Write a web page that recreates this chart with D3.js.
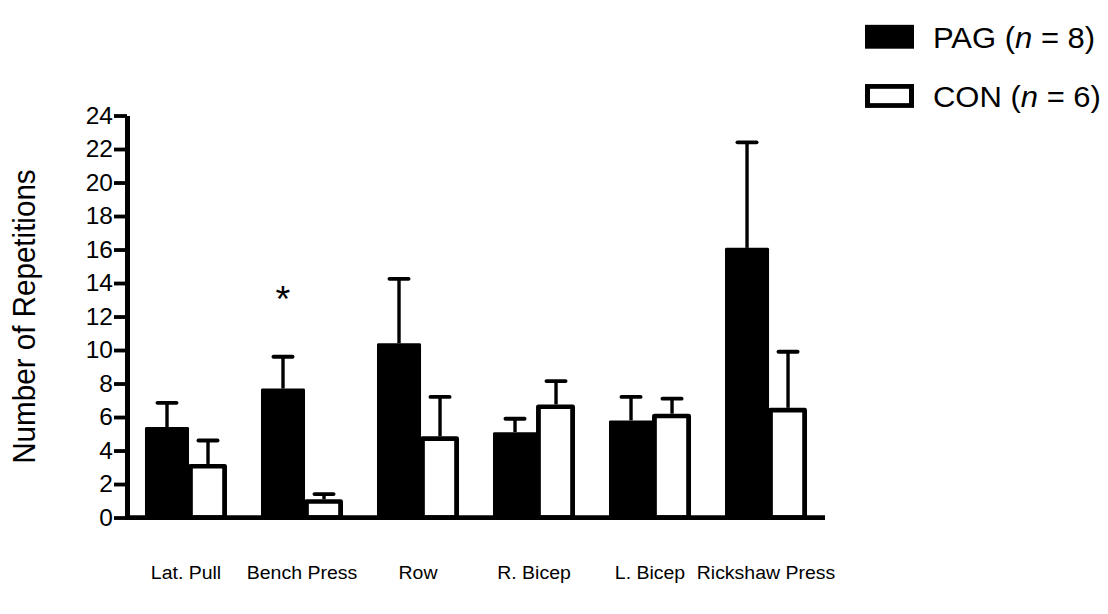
<!DOCTYPE html>
<html>
<head>
<meta charset="utf-8">
<script src="https://cdn.jsdelivr.net/npm/d3@7"></script>
<style>
  html, body { margin: 0; padding: 0; background: #fff; }
  svg { display: block; font-family: Arial, "Liberation Sans", sans-serif; }
</style>
</head>
<body>
<div id="chart"></div>
<script>
// exercises on the x axis
const categories = ['Lat. Pull', 'Bench Press', 'Row', 'R. Bicep', 'L. Bicep', 'Rickshaw Press'];

// mean repetitions and upper error (SEM) per group
const pagMean = [5.4, 7.7, 10.4, 5.1, 5.8, 16.1];
const pagErr = [1.45, 1.9, 3.85, 0.8, 1.4, 6.3];
const conMean = [3.2, 1.1, 4.85, 6.75, 6.2, 6.55];
const conErr = [1.4, 0.3, 2.35, 1.4, 0.9, 3.35];

const yTicks = [0, 2, 4, 6, 8, 10, 12, 14, 16, 18, 20, 22, 24];
const groups = ['PAG', 'CON'];
const legendLabels = [['PAG (', 'n', ' = 8)'], ['CON (', 'n', ' = 6)']];
const sigIndex = 1; // Bench Press, PAG bar marked *
const sigLevel = 13.5;

// the figure is laid out on a 1108x643 sheet and squeezed to 614 high
const W = 1108, H = 643, OUT_H = 614;
const margin = { left: 127, right: 283, top: 121, bottom: 101 };

const svg = d3.select('#chart').append('svg')
  .attr('width', W).attr('height', OUT_H);
const root = svg.append('g').attr('transform', `scale(1,${OUT_H / H})`);

const y = d3.scaleLinear().domain([0, 24]).range([H - margin.bottom, margin.top]);
const x = d3.scaleBand().domain(categories)
  .range([margin.left, W - margin.right])
  .paddingInner(0.293).paddingOuter(0.155);

const bw = x.bandwidth();
const pagW = bw * 0.537;

const g = root.append('g');

// PAG bars (filled)
g.selectAll('.pag').data(categories).join('rect')
  .attr('class', 'pag')
  .attr('x', d => x(d))
  .attr('y', (d, i) => y(pagMean[i]))
  .attr('width', pagW)
  .attr('height', (d, i) => y(0) - y(pagMean[i]))
  .attr('rx', 1.5)
  .attr('fill', '#000');

// CON bars (outlined)
const sw = 4.8;
g.selectAll('.con').data(categories).join('rect')
  .attr('class', 'con')
  .attr('x', d => x(d) + pagW + sw / 2 - 1)
  .attr('y', (d, i) => y(conMean[i]) + sw / 2)
  .attr('width', bw - pagW - sw + 1)
  .attr('height', (d, i) => y(0) - y(conMean[i]) - sw / 2)
  .attr('fill', '#fff')
  .attr('stroke', '#000')
  .attr('stroke-width', sw)
  .attr('stroke-linejoin', 'round');

// error bars (upper only)
function errBars(cls, means, errs, cxFn) {
  const eg = g.selectAll('.' + cls).data(categories).join('g').attr('class', cls);
  eg.append('line')
    .attr('x1', d => cxFn(d)).attr('x2', d => cxFn(d))
    .attr('y1', (d, i) => y(means[i]))
    .attr('y2', (d, i) => y(means[i] + errs[i]))
    .attr('stroke', '#000').attr('stroke-width', 3.4);
  eg.append('line')
    .attr('x1', d => cxFn(d) - 9.5).attr('x2', d => cxFn(d) + 9.5)
    .attr('y1', (d, i) => y(means[i] + errs[i]))
    .attr('y2', (d, i) => y(means[i] + errs[i]))
    .attr('stroke', '#000').attr('stroke-width', 4)
    .attr('stroke-linecap', 'round');
}
errBars('pagErr', pagMean, pagErr, d => x(d) + pagW / 2);
errBars('conErr', conMean, conErr, d => x(d) + pagW + (bw - pagW) / 2);

// significance marker
root.append('text')
  .attr('x', x(categories[sigIndex]) + pagW / 2)
  .attr('y', y(sigLevel) + 22)
  .attr('text-anchor', 'middle')
  .attr('font-size', 38)
  .text('*');

// y axis
const yAxis = root.append('g')
  .attr('transform', `translate(${margin.left},0)`)
  .call(d3.axisLeft(y).tickValues(yTicks).tickSize(13).tickSizeOuter(0).tickPadding(1));
yAxis.select('.domain').attr('stroke-width', 5);
yAxis.selectAll('.tick line').attr('stroke-width', 4);
yAxis.selectAll('.tick text')
  .attr('font-size', 24.5).attr('fill', '#000')
  .attr('font-family', 'Arial, "Liberation Sans", sans-serif');

// x axis
const xAxis = root.append('g')
  .attr('transform', `translate(0,${y(0)})`)
  .call(d3.axisBottom(x).tickSize(0).tickSizeOuter(0).tickPadding(51));
xAxis.select('.domain').attr('stroke-width', 5)
  .attr('d', `M${margin.left - 2},0H${W - margin.right}`);
xAxis.selectAll('.tick text')
  .attr('font-size', 19.5).attr('fill', '#000')
  .attr('font-family', 'Arial, "Liberation Sans", sans-serif');

// y axis title
root.append('text')
  .attr('transform', `translate(35,${(y(0) + y(24)) / 2}) rotate(-90)`)
  .attr('text-anchor', 'middle')
  .attr('font-size', 31)
  .text('Number of Repetitions');

// legend
const legend = root.append('g').attr('transform', 'translate(865,26)');
groups.forEach((grp, i) => {
  const row = legend.append('g').attr('transform', `translate(0,${i * 62})`);
  if (grp === 'PAG') {
    row.append('rect').attr('x', 0).attr('y', 0).attr('width', 49).attr('height', 25).attr('fill', '#000');
  } else {
    row.append('rect').attr('x', 2.5).attr('y', 2.5).attr('width', 44).attr('height', 20)
      .attr('fill', '#fff').attr('stroke', '#000').attr('stroke-width', 5);
  }
  const t = row.append('text').attr('x', 68).attr('y', 24).attr('font-size', 31);
  t.append('tspan').text(legendLabels[i][0]);
  t.append('tspan').attr('font-style', 'italic').text(legendLabels[i][1]);
  t.append('tspan').text(legendLabels[i][2]);
});
</script>
</body>
</html>
